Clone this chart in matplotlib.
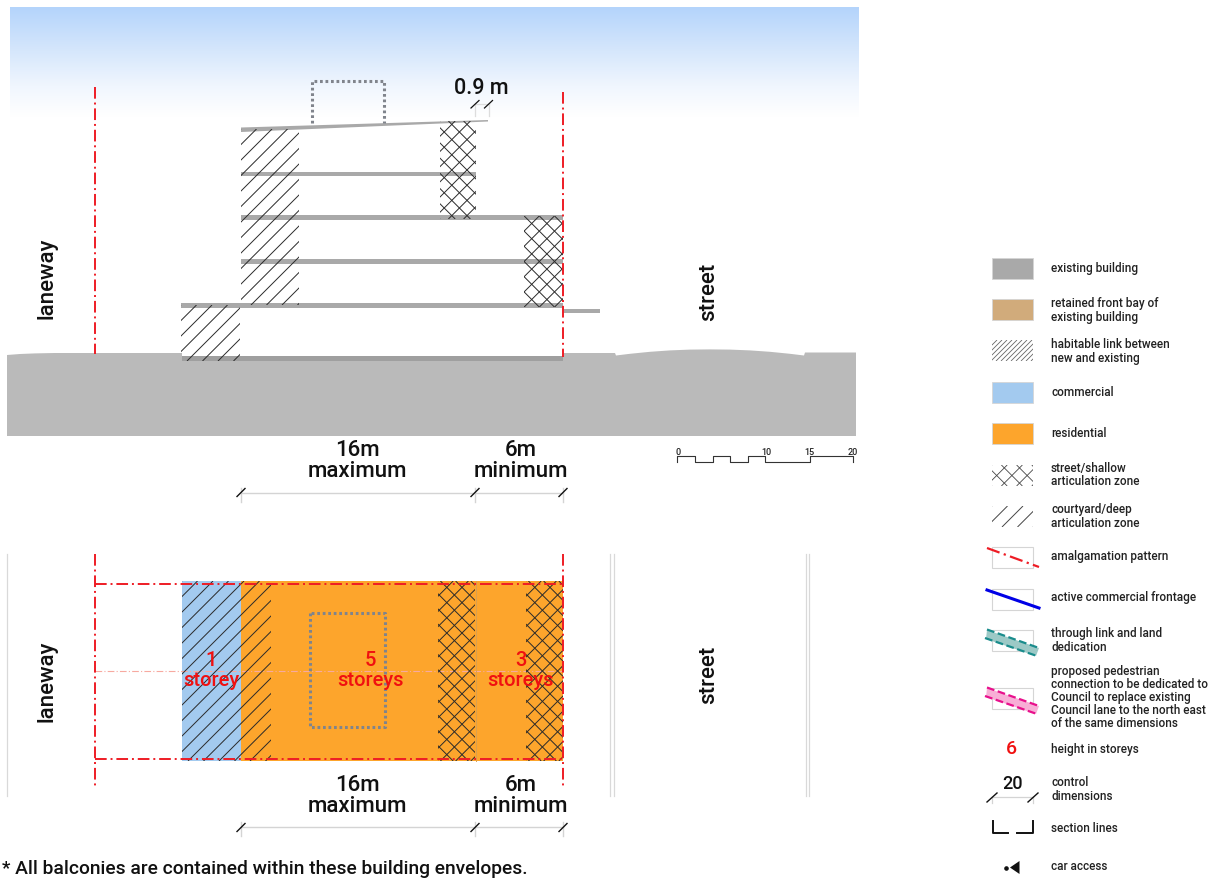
import numpy as np
import matplotlib
matplotlib.use("Agg")
import matplotlib.pyplot as plt
from matplotlib.patches import Rectangle, Polygon
from matplotlib.collections import LineCollection
from matplotlib.colors import LinearSegmentedColormap

plt.rcParams['font.family'] = ['Roboto', 'DejaVu Sans']

legend_labels = ["existing building", "retained front bay of\nexisting building",
                 "habitable link between\nnew and existing", "commercial", "residential",
                 "street/shallow\narticulation zone", "courtyard/deep\narticulation zone",
                 "amalgamation pattern", "active commercial frontage",
                 "through link and land\ndedication",
                 "proposed pedestrian\nconnection to be dedicated to\nCouncil to replace existing\nCouncil lane to the north east\nof the same dimensions",
                 "height in storeys", "control\ndimensions", "section lines", "car access"]
legend_y = [268.5, 310.5, 351.5, 392.5, 433.5, 475, 516.5, 556.5, 597.5, 640.5, 697.5, 749.5, 789.5, 828.5, 866.5]
floor_rows = [(241, 476, 175), (241, 563, 218.5), (241, 563, 262.5), (181, 563, 306.5)]
storey_labels = [("1\nstorey", 211), ("5\nstoreys", 370), ("3\nstoreys", 521)]
scale_ticks = [(0, 678), (10, 766), (15, 809), (20, 853)]
dim_labels = [("16m\nmaximum", 357), ("6m\nminimum", 521)]

GREY = "#a9a9a9"
GROUND = "#bababa"
RED = "#ee1c25"
ORANGE = "#fda52c"
BLUE = "#a3caef"
TAN = "#d1ab7b"
DOT = "#80848c"

fig = plt.figure(figsize=(12.22, 8.79), dpi=100)
ax = fig.add_axes([0, 0, 1, 1])
ax.set_xlim(0, 1222)
ax.set_ylim(879, 0)
ax.axis("off")


def hatch(x0, y0, x1, y1, step=15.5, cross=False, lw=0.7, color="#2a2a2a", z=5):
    clip = Rectangle((x0, y0), x1 - x0, y1 - y0, transform=ax.transData)
    h = y1 - y0
    segs = []
    for c in np.arange(x0 - h - step, x1 + h + step, step):
        segs.append([(c, y1), (c + h, y0)])
        if cross:
            segs.append([(c, y0), (c + h, y1)])
    lc = LineCollection(segs, colors=color, linewidths=lw, zorder=z)
    ax.add_collection(lc)
    lc.set_clip_path(clip)


def dashdot(xs, ys, lw=1.4, color=RED, z=6, alpha=1):
    ax.plot(xs, ys, color=color, lw=lw, zorder=z, alpha=alpha,
            dashes=(6, 2, 1, 2), solid_capstyle="butt", dash_capstyle="butt")


def dotted(x0, y0, x1, y1, closed=True):
    if closed:
        xs, ys = [x0, x0, x1, x1, x0], [y0, y1, y1, y0, y0]
    else:
        xs, ys = [x0, x0, x1, x1], [y1, y0, y0, y1]
    ax.plot(xs, ys, color=DOT, lw=2.2, dashes=(0.9, 0.9), zorder=7)


def dim(y, xs):
    ax.plot([xs[0], xs[-1]], [y, y], color="#d4d4d4", lw=1.0, zorder=3)
    for x in xs:
        ax.plot([x, x], [y - 5, y + 9], color="#d4d4d4", lw=1.0, zorder=3)
        ax.plot([x - 4, x + 4], [y + 4, y - 4], color="#111111", lw=1.0, zorder=4)


# sky
cmap = LinearSegmentedColormap.from_list(
    "sky", [(0, "#b4d4fb"), (0.4, "#d6e7fc"), (0.72, "#f0f6fe"), (1, "#ffffff")])
ax.imshow(np.linspace(0, 1, 128)[:, None], extent=(10, 859, 118, 8), cmap=cmap,
          aspect="auto", zorder=0)
ax.set_xlim(0, 1222)
ax.set_ylim(879, 0)

# ground
ground_top = [(7, 356), (20, 355), (35, 354.4), (55, 354), (95, 354), (182, 354), (563, 354), (615, 354),
              (616, 356.5), (630, 354.8), (650, 352.8), (670, 351.4), (690, 350.6), (710, 350.4),
              (730, 350.6), (750, 351.4), (770, 352.8), (790, 354.8), (804, 356.5),
              (805, 353.5), (856, 353.5)]
ax.add_patch(Polygon(ground_top + [(856, 437), (7, 437)], fc=GROUND, ec="none", zorder=1))
ax.add_patch(Rectangle((182, 340), 381, 17, fc="white", ec="none", zorder=1.5))
ax.add_patch(Rectangle((182, 357), 381, 5, fc="#9f9f9f", ec="none", zorder=2))

# floors
for x0, x1, y in floor_rows:
    ax.add_patch(Rectangle((x0, y - 2.3), x1 - x0, 4.6, fc=GREY, ec="none", zorder=3))
ax.add_patch(Polygon([(241, 128.5), (488, 121), (488, 122.5), (241, 133)], fc=GREY, ec="none", zorder=3))
ax.add_patch(Rectangle((563, 309.5), 37, 4, fc=GREY, ec="none", zorder=3))

# section hatches
hatch(241, 130, 299, 306)
hatch(181, 306, 240, 362)
hatch(440, 122, 476, 220, step=15.2, cross=True)
hatch(524, 217, 563, 308, step=15.2, cross=True)

dashdot([95, 95], [88, 355])
dashdot([562.5, 562.5], [93, 358])
dotted(312, 82, 384, 124, closed=False)

# 0.9 m
ax.text(481.5, 88.5, "0.9 m", ha="center", va="center", fontsize=15.5, fontweight="medium", color="#111111")
for x in [475, 488.5]:
    ax.plot([x, x], [105, 117], color="#dddddd", lw=0.9, zorder=2)
    ax.plot([x - 4, x + 4], [109, 101.5], color="#111111", lw=0.9, zorder=4)
ax.plot([475, 488.5], [105, 105], color="#dddddd", lw=0.9, zorder=2)

# section dims
for (t, x) in dim_labels:
    ax.text(x, 461.5, t, ha="center", va="center", fontsize=16, fontweight="medium",
            color="#111111", linespacing=1.0)
    ax.text(x, 796, t, ha="center", va="center", fontsize=16, fontweight="medium",
            color="#111111", linespacing=1.0)
dim(493.5, [241, 475, 563])
dim(828.5, [241, 475, 563])

# scale bar
sx = [677, 677, 695, 695, 712.5, 712.5, 730, 730, 748, 748, 765, 765, 809.5, 809.5, 853, 853]
sy = [463, 457, 457, 463, 463, 457, 457, 463, 463, 457, 457, 463, 463, 457, 457, 463]
ax.plot(sx, sy, color="#333333", lw=0.8, zorder=3)
for val, x in scale_ticks:
    ax.text(x, 452.5, str(val), ha="center", va="center", fontsize=6.5, fontweight="medium", color="#222222")

# side labels
ax.text(47, 278, "laneway", rotation=90, ha="center", va="center", fontsize=16, fontweight="medium", color="#111111")
ax.text(47, 681, "laneway", rotation=90, ha="center", va="center", fontsize=16, fontweight="medium", color="#111111")
ax.text(709, 291.5, "street", rotation=90, ha="center", va="center", fontsize=16, fontweight="medium", color="#111111")
ax.text(709, 674.5, "street", rotation=90, ha="center", va="center", fontsize=16, fontweight="medium", color="#111111")

# plan
for x in [7, 610, 614, 806, 809]:
    ax.plot([x, x], [555, 797], color="#d9d9d9", lw=0.9, zorder=1)
ax.add_patch(Rectangle((182, 582), 59, 180, fc=BLUE, ec="none", zorder=2))
ax.add_patch(Rectangle((241, 582), 322, 180, fc=ORANGE, ec="none", zorder=2))
hatch(182, 582, 271, 762)
hatch(438, 582, 475, 762, step=15.2, cross=True)
hatch(526, 582, 563, 762, step=15.2, cross=True)
ax.plot([475.5, 475.5], [582, 762], color="#d9a050", lw=0.7, zorder=4)
dashdot([95, 563], [584.5, 584.5])
dashdot([95, 563], [760, 760])
dashdot([95, 95], [555, 790])
dashdot([562.5, 562.5], [555, 790])
dashdot([95, 563], [672, 672], lw=0.8, color="#f7a9a0", z=3)
dotted(310, 614, 385, 728)
for t, x in storey_labels:
    ax.text(x, 670.5, t, ha="center", va="center", fontsize=14.5, fontweight="medium", color="#f01010",
            linespacing=1.08, zorder=8)

# footnote
ax.text(2, 869.5, "* All balconies are contained within these building envelopes.", ha="left",
        va="center", fontsize=13.9, fontweight="medium", color="#111111")

# legend
for t, y in zip(legend_labels, legend_y):
    ax.text(1051, y, t, ha="left", va="center", fontsize=8.5, fontweight="medium", color="#222222",
            linespacing=1.02)

sw_x0, sw_w = 992, 41
for y, c in [(259, GREY), (300, TAN), (383, BLUE), (424, ORANGE)]:
    ax.add_patch(Rectangle((sw_x0, y), sw_w, 21, fc=c, ec="#d5d5d5", lw=0.6, zorder=2))
hatch(sw_x0, 341, sw_x0 + sw_w, 362, step=5.0, lw=0.6, color="#666666")
hatch(sw_x0, 466, sw_x0 + sw_w, 487, step=15.2, cross=True, lw=0.6, color="#444444")
hatch(sw_x0, 507, sw_x0 + sw_w, 528, step=15.5, lw=0.7, color="#444444")
for y in [548, 590, 631, 689]:
    ax.add_patch(Rectangle((sw_x0, y), sw_w, 21, fc="white", ec="#d5d5d5", lw=0.8, zorder=1))
dashdot([987, 1039], [549, 568], lw=1.6)
ax.plot([987, 1039], [591, 609], color="#0000e6", lw=2.2, zorder=5)
for y0, fill, edge in [(631, "#9cc9c6", "#1a8c8c"), (689, "#f8aed6", "#e8108c")]:
    ax.add_patch(Polygon([(987, y0), (1039, y0 + 18), (1036, y0 + 26), (986, y0 + 9)],
                         fc=fill, ec="none", zorder=3))
    ax.plot([987, 1039], [y0 - 0.5, y0 + 18], color=edge, lw=1.6, dashes=(3.5, 1.6), zorder=4)
    ax.plot([985, 1037], [y0 + 8, y0 + 26], color=edge, lw=1.6, dashes=(3.5, 1.6), zorder=4)
ax.text(1011.5, 749, "6", ha="center", va="center", fontsize=14, fontweight="medium", color="#f01010")
ax.text(1012.5, 784, "20", ha="center", va="center", fontsize=13, fontweight="medium", color="#111111")
ax.plot([992, 1033], [798.5, 798.5], color="#d4d4d4", lw=0.9, zorder=2)
for x in [992, 1033]:
    ax.plot([x, x], [798.5, 804], color="#d4d4d4", lw=0.9, zorder=2)
    ax.plot([x - 5, x + 5], [803, 794], color="#111111", lw=1.0, zorder=3)
ax.plot([992.5, 992.5, 1008], [822, 834, 834], color="#111111", lw=1.4, zorder=3)
ax.plot([1017, 1032.5, 1032.5], [834, 834, 822], color="#111111", lw=1.4, zorder=3)
ax.plot([1006], [869], marker="o", ms=2.3, color="#111111", zorder=3)
ax.add_patch(Polygon([(1010, 868.5), (1019.5, 862), (1019.5, 875)], fc="#111111", ec="none", zorder=3))

fig.savefig("out.png", dpi=100, facecolor="white")
